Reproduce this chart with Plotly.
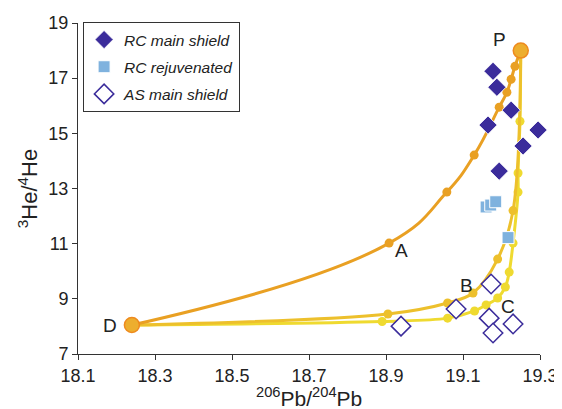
import plotly.graph_objects as go

# ---- data ----
# end members
end_names = ["D", "P"]
end_x = [18.24, 19.25]
end_y = [8.05, 18.0]

# mixing curve A (orange)
curveA_x = [18.24, 18.908, 19.058, 19.129, 19.194, 19.214, 19.225, 19.235, 19.25]
curveA_y = [8.05, 11.02, 12.87, 14.21, 15.95, 16.49, 16.96, 17.43, 18.0]

# mixing curve B (golden)
curveB_x = [18.24, 18.905, 19.06, 19.126, 19.19, 19.23, 19.25]
curveB_y = [8.05, 8.45, 8.85, 9.21, 10.44, 12.2, 18.0]

# mixing curve C (yellow)
curveC_x = [18.24, 18.89, 19.06, 19.13, 19.16, 19.19, 19.21, 19.22, 19.23, 19.243, 19.243, 19.248, 19.25]
curveC_y = [8.05, 8.18, 8.30, 8.56, 8.78, 9.03, 9.43, 9.97, 11.02, 12.87, 13.56, 15.44, 18.0]

# samples
rc_main_x = [19.178, 19.188, 19.225, 19.165, 19.295, 19.256, 19.194]
rc_main_y = [17.25, 16.67, 15.84, 15.30, 15.12, 14.54, 13.63]

rc_rej_x = [19.16, 19.172, 19.185, 19.217]
rc_rej_y = [12.33, 12.40, 12.52, 11.22]

as_main_x = [19.173, 19.082, 18.939, 19.168, 19.178, 19.23]
as_main_y = [9.54, 8.63, 8.01, 8.30, 7.76, 8.09]

# curve labels
label_text = ["A", "B", "C", "D", "P"]
label_x = [18.94, 19.108, 19.217, 18.183, 19.196]
label_y = [10.77, 9.50, 8.74, 8.05, 18.40]

x_ticks = [18.1, 18.3, 18.5, 18.7, 18.9, 19.1, 19.3]
y_ticks = [7, 9, 11, 13, 15, 17, 19]

FONT = "Liberation Sans, Arial, Helvetica, sans-serif"
ORANGE = "#E9A023"
GOLD = "#EDC02C"
YELLOW = "#EFDA30"
INDIGO = "#3B2C9B"

fig = go.Figure()

def curve(xs, ys, color, smooth):
    fig.add_trace(go.Scatter(
        x=xs, y=ys, mode="lines", line=dict(color=color, width=3, shape="spline", smoothing=smooth),
        showlegend=False, hoverinfo="skip", cliponaxis=False))
    fig.add_trace(go.Scatter(
        x=xs[1:-1], y=ys[1:-1], mode="markers",
        marker=dict(color=color, size=9, line=dict(width=0)),
        showlegend=False, hoverinfo="skip", cliponaxis=False))

curve(curveC_x, curveC_y, YELLOW, 1.0)
curve(curveB_x, curveB_y, GOLD, 1.0)
curve(curveA_x, curveA_y, ORANGE, 1.3)

fig.add_trace(go.Scatter(
    x=end_x, y=end_y, mode="markers",
    marker=dict(color="#EDAE2E", size=15, line=dict(color="#EE8A1E", width=1.5)),
    showlegend=False, hoverinfo="skip", cliponaxis=False))

fig.add_trace(go.Scatter(
    x=rc_main_x, y=rc_main_y, mode="markers", name="RC main shield", cliponaxis=False,
    legendgroup="g1",
    marker=dict(symbol="diamond", color=INDIGO, size=14, line=dict(color="white", width=0.8))))
fig.add_trace(go.Scatter(
    x=rc_rej_x, y=rc_rej_y, mode="markers", name="RC rejuvenated", cliponaxis=False,
    legendgroup="g2",
    marker=dict(symbol="square", color="#7FB2DE", size=12, line=dict(color="white", width=1))))
fig.add_trace(go.Scatter(
    x=as_main_x, y=as_main_y, mode="markers", name="AS main shield", cliponaxis=False,
    legendgroup="g3",
    marker=dict(symbol="diamond", color="white", size=15, line=dict(color=INDIGO, width=1.5))))

for t, x, y in zip(label_text, label_x, label_y):
    fig.add_annotation(x=x, y=y, text=t, showarrow=False,
                       font=dict(family=FONT, size=19, color="#222"))

# x-axis title as a paper-anchored annotation (keeps it inside the visible page)
fig.add_annotation(xref="paper", yref="paper", x=0.5, y=-0.131, xanchor="center", yanchor="middle",
                   text="<sup>206</sup>Pb/<sup>204</sup>Pb", showarrow=False,
                   font=dict(family=FONT, size=21, color="#222"))

axis_common = dict(showgrid=False, zeroline=False, showline=True, linecolor="#333", linewidth=1,
                   ticks="outside", ticklen=5, tickcolor="#333", tickwidth=1, automargin=False,
                   tickfont=dict(family=FONT, size=18, color="#222"))

fig.update_layout(
    width=562, height=409,
    margin=dict(l=70, r=30, t=15, b=63),
    plot_bgcolor="white", paper_bgcolor="white",
    xaxis=dict(range=[18.1, 19.3], tickvals=x_ticks, ticktext=[f"{v:.1f}" for v in x_ticks],
               **axis_common),
    yaxis=dict(range=[7, 19], tickvals=y_ticks, ticktext=[str(v) for v in y_ticks],
               title=dict(text="<sup>3</sup>He/<sup>4</sup>He", font=dict(family=FONT, size=22, color="#222"),
                          standoff=4),
               **axis_common),
    legend=dict(x=0.011, y=1.003, xanchor="left", yanchor="top",
                bordercolor="#333", borderwidth=1, bgcolor="white",
                traceorder="grouped", tracegroupgap=4,
                font=dict(family=FONT, size=15.5, color="#222", style="italic")),
    showlegend=True,
)

fig.write_html("out.html")
